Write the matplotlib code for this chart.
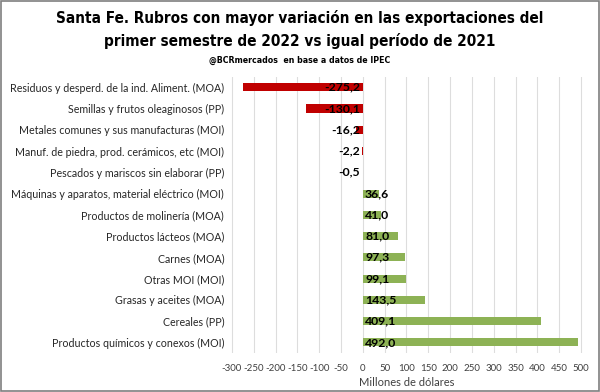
import matplotlib.pyplot as plt
import numpy as np

categories = [
    "Residuos y desperd. de la ind. Aliment. (MOA)",
    "Semillas y frutos oleaginosos (PP)",
    "Metales comunes y sus manufacturas (MOI)",
    "Manuf. de piedra, prod. cerámicos, etc (MOI)",
    "Pescados y mariscos sin elaborar (PP)",
    "Máquinas y aparatos, material eléctrico (MOI)",
    "Productos de molinería (MOA)",
    "Productos lácteos (MOA)",
    "Carnes (MOA)",
    "Otras MOI (MOI)",
    "Grasas y aceites (MOA)",
    "Cereales (PP)",
    "Productos químicos y conexos (MOI)",
]
values = [-275.2, -130.1, -16.2, -2.2, -0.5, 36.6, 41.0, 81.0, 97.3, 99.1, 143.5, 409.1, 492.0]
xticks = list(range(-300, 501, 50))

RED = "#C00000"
GREEN = "#8DB255"
body_font = ["Lato", "DejaVu Sans"]
title_font = ["DejaVu Sans"]

fig = plt.figure(figsize=(6, 3.92), dpi=100)
ax = fig.add_axes([0.383, 0.0995, 0.589, 0.705])

y = np.arange(len(categories))
colors = [RED if v < 0 else GREEN for v in values]
ax.barh(y, values, height=0.38, color=colors, zorder=2)

for yi, v in zip(y, values):
    txt = f"{v:.1f}".replace(".", ",")
    if v < 0:
        ax.text(-6, yi, txt, ha="right", va="center", fontsize=8.8,
                fontweight="bold", family=body_font, color="black", zorder=3)
    else:
        ax.text(5, yi, txt, ha="left", va="center", fontsize=8.8,
                fontweight="bold", family=body_font, color="black", zorder=3)

ax.set_ylim(len(categories) - 0.5, -0.5)
ax.set_xlim(-305, 505)
ax.set_xticks(xticks)
ax.set_xticklabels([str(t) for t in xticks], fontsize=7, family=body_font, color="#404040")
ax.set_yticks(y)
ax.set_yticklabels(categories, fontsize=7.7, family=body_font, color="#262626")
ax.tick_params(length=0, pad=4)
ax.tick_params(axis="x", pad=8)
ax.grid(axis="x", color="#DDDDDD", linewidth=0.8, zorder=0)
for s in ax.spines.values():
    s.set_visible(False)
ax.set_xlabel("Millones de dólares", fontsize=8, family=body_font, color="#404040", labelpad=3)

fig.text(0.5, 0.955, "Santa Fe. Rubros con mayor variación en las exportaciones del",
         ha="center", va="center", fontsize=11, fontweight="bold", fontstretch="condensed",
         family=title_font)
fig.text(0.5, 0.895, "primer semestre de 2022 vs igual período de 2021",
         ha="center", va="center", fontsize=11, fontweight="bold", fontstretch="condensed",
         family=title_font)
fig.text(0.5, 0.847, "@BCRmercados  en base a datos de IPEC",
         ha="center", va="center", fontsize=6.3, fontweight="bold", fontstretch="condensed",
         family=title_font)

border = plt.Rectangle((0.002, 0.003), 0.996, 0.994, transform=fig.transFigure,
                       fill=False, edgecolor="#7F7F7F", linewidth=1.2)
fig.patches.append(border)

fig.savefig("out.png", dpi=100)
